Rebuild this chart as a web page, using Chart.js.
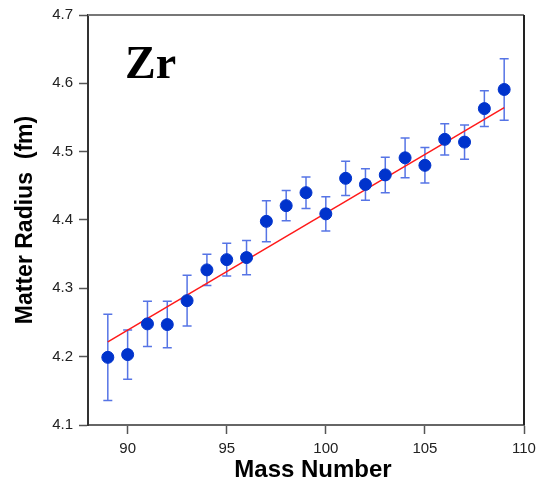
<!DOCTYPE html>
<html>
<head>
    <script src="https://cdn.jsdelivr.net/npm/chart.js"></script>
    <style>
        body { margin: 0; background: #fff; }
        #wrap { position: relative; width: 537px; height: 484px; }
    </style>
</head>
<body>
<div id="wrap">
    <canvas id="chart" width="537" height="484"></canvas>
</div>

<script>
    // data
    var massNumber = [89, 90, 91, 92, 93, 94, 95, 96, 97, 98, 99, 100, 101, 102, 103, 104, 105, 106, 107, 108, 109];
    var radius = [4.199, 4.203, 4.248, 4.247, 4.282, 4.327, 4.342, 4.345, 4.398, 4.421, 4.440, 4.409, 4.461, 4.452, 4.466, 4.491, 4.480, 4.518, 4.514, 4.563, 4.591];
    var radiusErr = [0.063, 0.036, 0.033, 0.034, 0.037, 0.023, 0.024, 0.025, 0.030, 0.022, 0.023, 0.025, 0.025, 0.023, 0.026, 0.029, 0.026, 0.023, 0.025, 0.026, 0.045];
    var fitX = [89, 109];
    var fitY = [4.2215, 4.5645];
    var xTicks = [90, 95, 100, 105, 110];
    var yTicks = [4.1, 4.2, 4.3, 4.4, 4.5, 4.6, 4.7];

    var points = massNumber.map(function (m, i) { return { x: m, y: radius[i] }; });
    var fitLine = fitX.map(function (m, i) { return { x: m, y: fitY[i] }; });

    // error bars + frame + labels
    var extras = {
        id: 'extras',
        beforeDatasetsDraw: function (chart) {
            var ctx = chart.ctx, xs = chart.scales.x, ys = chart.scales.y;
            ctx.save();
            ctx.strokeStyle = 'rgba(30,70,220,0.75)';
            ctx.lineWidth = 1.5;
            for (var i = 0; i < massNumber.length; i++) {
                var px = xs.getPixelForValue(massNumber[i]);
                var top = ys.getPixelForValue(radius[i] + radiusErr[i]);
                var bot = ys.getPixelForValue(radius[i] - radiusErr[i]);
                ctx.beginPath();
                ctx.moveTo(px, top); ctx.lineTo(px, bot);
                ctx.moveTo(px - 4.5, top); ctx.lineTo(px + 4.5, top);
                ctx.moveTo(px - 4.5, bot); ctx.lineTo(px + 4.5, bot);
                ctx.stroke();
            }
            ctx.restore();
        },
        afterDraw: function (chart) {
            var ctx = chart.ctx, a = chart.chartArea;
            ctx.save();
            // top and right frame
            ctx.lineWidth = 2;
            ctx.strokeStyle = '#777';
            ctx.beginPath(); ctx.moveTo(a.left, a.top); ctx.lineTo(a.right, a.top); ctx.stroke();
            ctx.strokeStyle = '#222';
            ctx.beginPath(); ctx.moveTo(a.right, a.top); ctx.lineTo(a.right, a.bottom); ctx.stroke();
            // element label
            ctx.fillStyle = '#000';
            ctx.font = 'bold 46px "Liberation Serif", "DejaVu Serif", serif';
            ctx.textBaseline = 'alphabetic';
            ctx.fillText('Zr', 125, 78);
            // x title
            ctx.font = 'bold 24px "Liberation Sans", Arial, sans-serif';
            ctx.textAlign = 'center';
            ctx.textBaseline = 'middle';
            ctx.fillText('Mass Number', 313, 470);
            ctx.restore();
        }
    };

    var ctx = document.getElementById('chart').getContext('2d');
    var myChart = new Chart(ctx, {
        type: 'scatter',
        data: {
            datasets: [{
                label: 'Zr',
                data: points,
                backgroundColor: '#0033cc',
                borderColor: '#0033cc',
                pointRadius: 6,
                order: 1
            }, {
                label: 'fit',
                type: 'line',
                data: fitLine,
                borderColor: '#ff1a1a',
                borderWidth: 1.5,
                pointRadius: 0,
                fill: false,
                order: 2
            }]
        },
        options: {
            responsive: false,
            animation: false,
            layout: { padding: { top: 15, right: 13, left: 0, bottom: 0 } },
            plugins: { legend: { display: false }, tooltip: { enabled: false } },
            scales: {
                x: {
                    type: 'linear',
                    min: 88, max: 110,
                    afterFit: function (s) { s.height = 59; s.paddingLeft = 0; s.paddingRight = 0; },
                    afterBuildTicks: function (s) { s.ticks = xTicks.map(function (v) { return { value: v }; }); },
                    grid: { display: true, drawOnChartArea: false, drawTicks: true, tickLength: 9, tickColor: '#555', tickWidth: 1.5 },
                    border: { color: '#666', width: 2 },
                    ticks: { color: '#222', font: { size: 15, family: '"Liberation Sans", Arial, sans-serif' }, padding: 6, maxRotation: 0 }
                },
                y: {
                    min: 4.1, max: 4.7,
                    afterFit: function (s) { s.width = 88; s.paddingTop = 0; s.paddingBottom = 0; },
                    afterBuildTicks: function (s) { s.ticks = yTicks.map(function (v) { return { value: v }; }); },
                    grid: { display: true, drawOnChartArea: false, drawTicks: true, tickLength: 9, tickColor: '#555', tickWidth: 1.5 },
                    border: { color: '#333', width: 2 },
                    ticks: {
                        color: '#222', font: { size: 15, family: '"Liberation Sans", Arial, sans-serif' }, padding: 6,
                        callback: function (v) { return v.toFixed(1); }
                    },
                    title: {
                        display: true,
                        text: 'Matter Radius  (fm)',
                        color: '#000',
                        font: { size: 23, weight: 'bold', family: '"Liberation Sans", Arial, sans-serif' },
                        padding: { top: 12, bottom: 0 }
                    }
                }
            }
        },
        plugins: [extras]
    });
</script>
</body>
</html>
